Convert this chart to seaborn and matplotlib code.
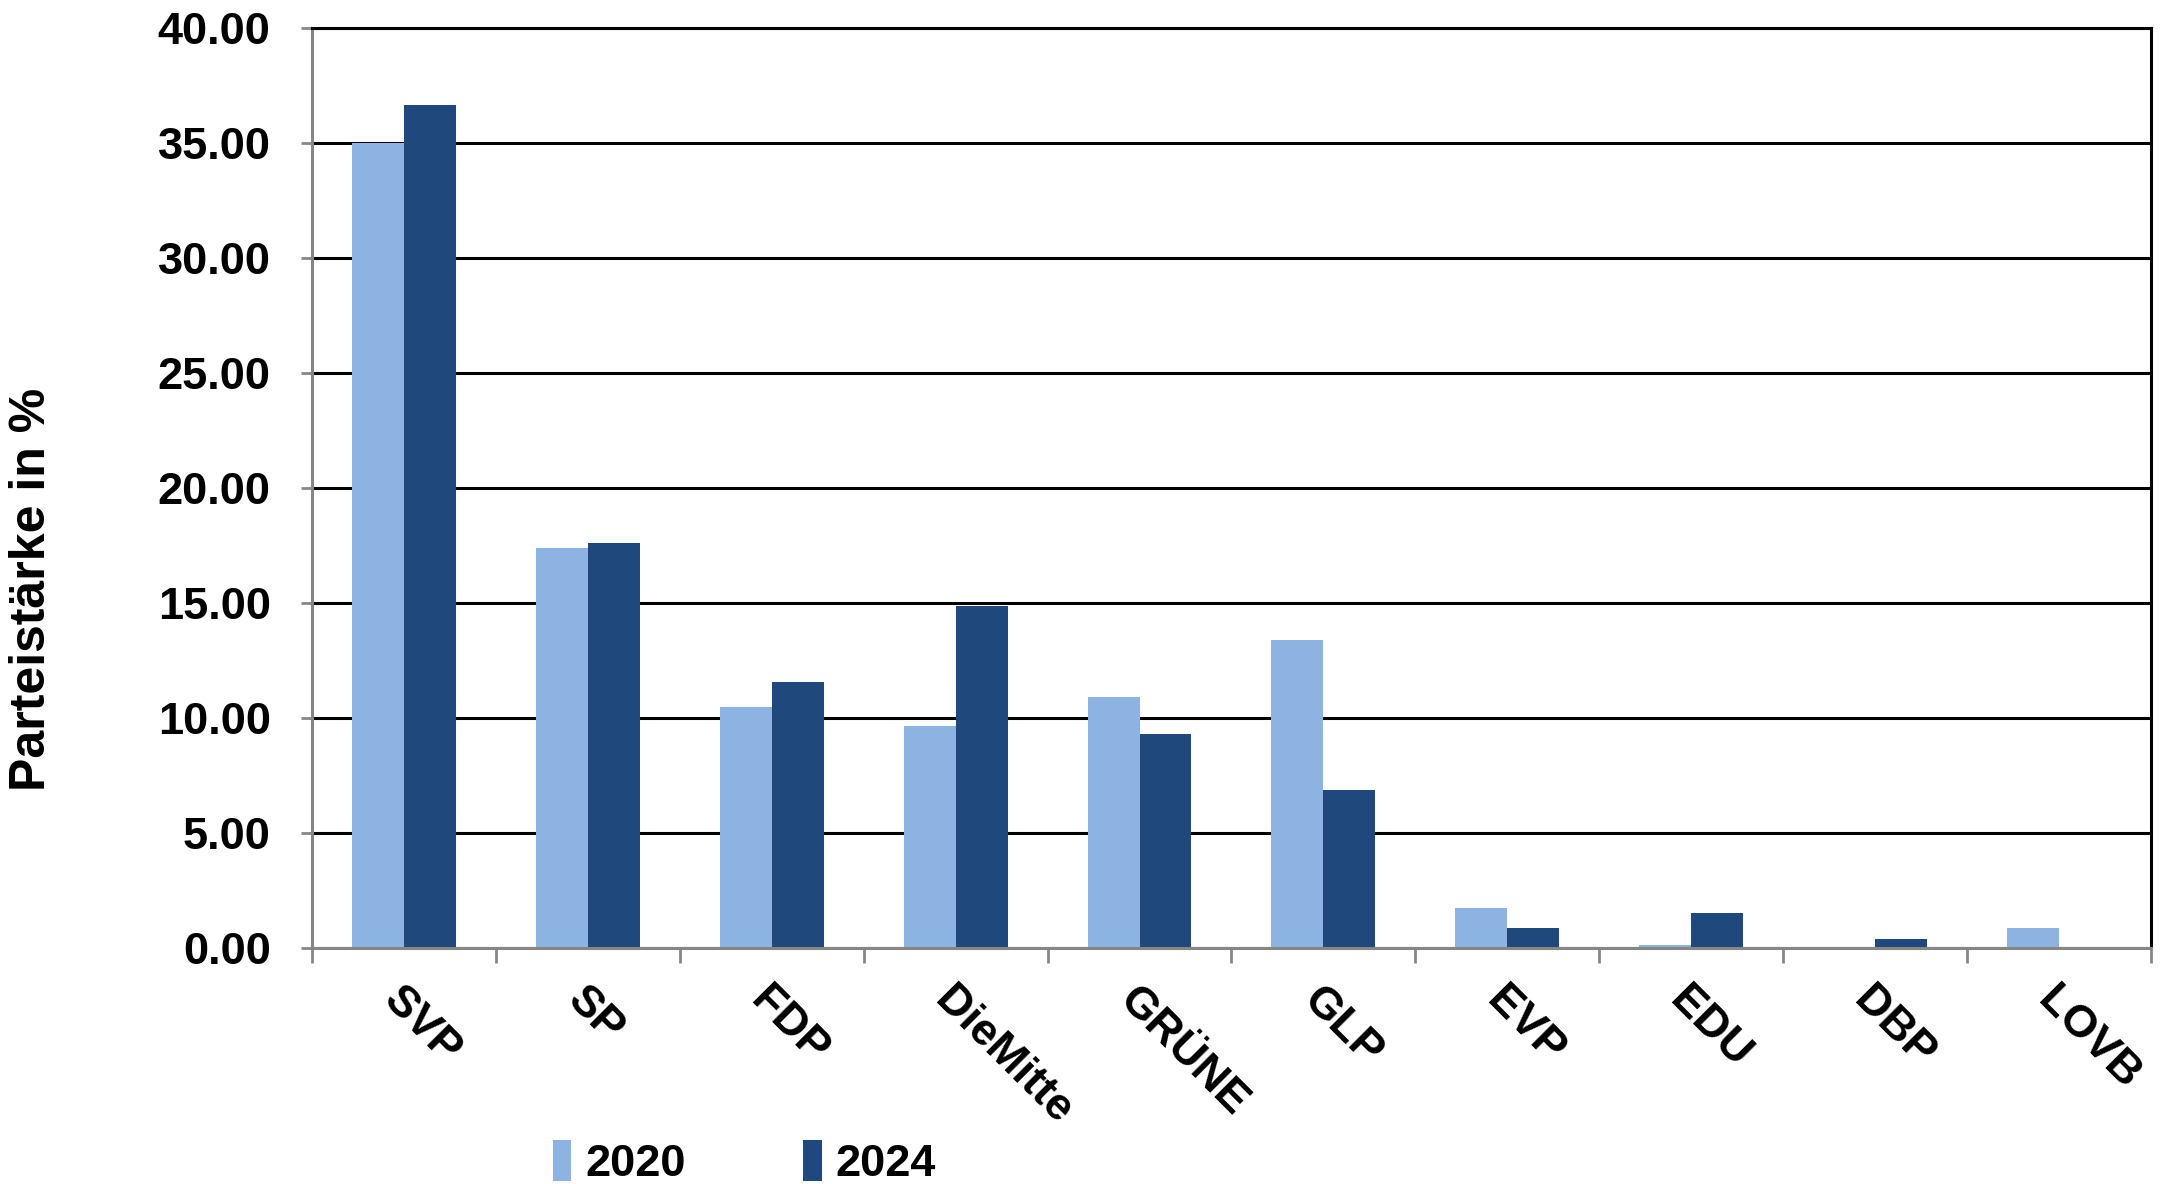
import matplotlib
matplotlib.use("Agg")
import matplotlib.pyplot as plt
import seaborn as sns
import pandas as pd
from matplotlib.ticker import FixedLocator, FormatStrFormatter

parties = ["SVP", "SP", "FDP", "DieMitte", "GRÜNE", "GLP", "EVP", "EDU", "DBP", "LOVB"]
years = ["2020", "2024"]
v2020 = [35.0, 17.41, 10.51, 9.69, 10.92, 13.39, 1.77, 0.15, 0.0, 0.87]
v2024 = [36.69, 17.62, 11.60, 14.88, 9.30, 6.87, 0.87, 1.56, 0.39, 0.0]
colors = ["#8DB3E2", "#1F497D"]
ylabel = "Parteistärke in %"

df = pd.DataFrame({
    "Partei": parties * 2,
    "Jahr": [years[0]] * len(parties) + [years[1]] * len(parties),
    "Wert": v2020 + v2024,
})

sns.set_theme(style="white")
plt.rcParams["font.family"] = ["Liberation Sans", "DejaVu Sans"]
plt.rcParams["font.weight"] = "bold"
plt.rcParams["text.color"] = "black"
plt.rcParams["axes.labelcolor"] = "black"
plt.rcParams["xtick.color"] = "black"
plt.rcParams["ytick.color"] = "black"

fig = plt.figure(figsize=(21.69, 11.84), dpi=100)
ax = fig.add_axes([0.144, 0.199, 0.8475, 0.777])

sns.barplot(data=df, x="Partei", y="Wert", hue="Jahr", hue_order=years,
            palette=colors, width=0.565, saturation=1, ax=ax, legend=True,
            linewidth=0, edgecolor="none")

ax.set_xlim(-0.5, len(parties) - 0.5)
ax.set_ylim(0, 40)
ax.set_yticks([0, 5, 10, 15, 20, 25, 30, 35, 40])
ax.yaxis.set_major_formatter(FormatStrFormatter("%.2f"))
ax.yaxis.grid(True, color="black", lw=2.2)
ax.xaxis.grid(False)
ax.set_axisbelow(True)

gray = "#868686"
for s in ["left", "bottom"]:
    ax.spines[s].set_color(gray)
    ax.spines[s].set_linewidth(2.2)
for s in ["right", "top"]:
    ax.spines[s].set_color("black")
    ax.spines[s].set_linewidth(2.2)

fs = 32.5
ax.tick_params(axis="y", which="major", left=True, length=8, width=2, color=gray,
               labelcolor="black", labelsize=fs, pad=22)
ax.tick_params(axis="x", which="major", bottom=False, length=0, labelcolor="black",
               labelsize=fs, pad=22)
ax.xaxis.set_minor_locator(FixedLocator([i - 0.5 for i in range(len(parties) + 1)]))
ax.tick_params(axis="x", which="minor", bottom=True, length=11, width=2, color=gray)
for lbl in ax.get_yticklabels():
    lbl.set_fontweight("bold")
for lbl in ax.get_xticklabels():
    lbl.set_fontweight("bold")
    lbl.set_rotation(-45)
    lbl.set_ha("left")
    lbl.set_rotation_mode("anchor")

ax.set_xlabel("")
ax.set_ylabel(ylabel, fontsize=36, fontweight="bold", color="black")
ax.yaxis.set_label_coords(-0.140, 0.39)

handles, labels = ax.get_legend_handles_labels()
ax.get_legend().remove()
fig.legend(handles, labels, loc="center left", bbox_to_anchor=(0.236, 0.018),
           ncol=2, frameon=False, prop={"weight": "bold", "size": fs},
           handlelength=0.42, handleheight=1.0, handletextpad=0.3, columnspacing=2.6)

fig.savefig("out.png", dpi=100)
